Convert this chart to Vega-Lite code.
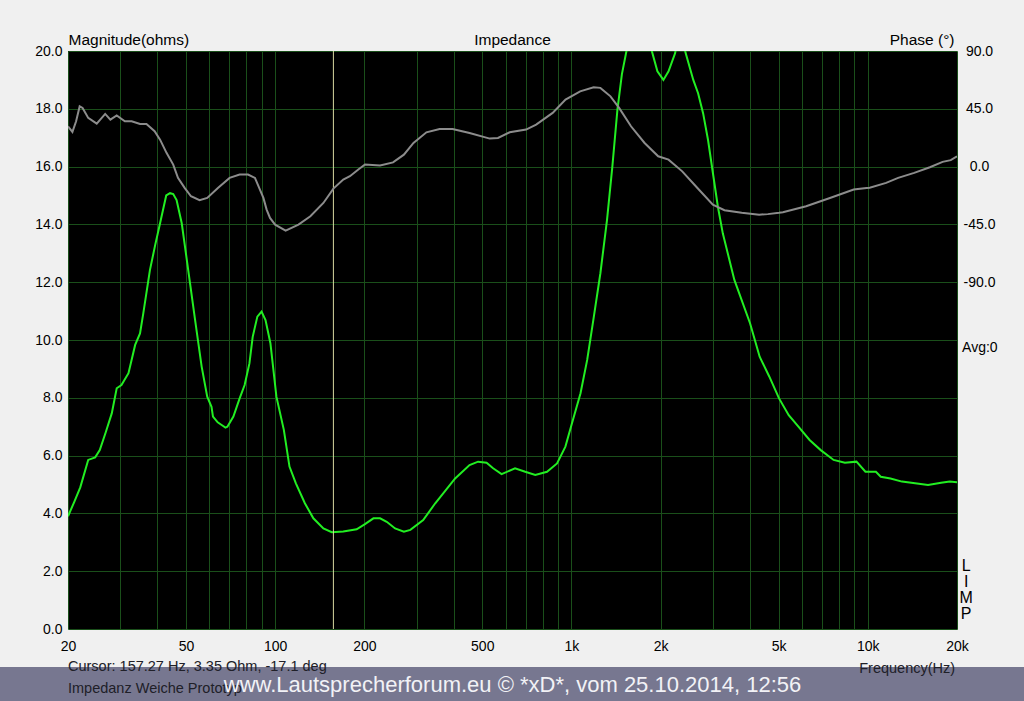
{
  "$schema": "https://vega.github.io/schema/vega-lite/v6.json",
  "width": 889,
  "height": 578,
  "autosize": {"type": "none"},
  "padding": {"left": 68, "top": 51, "right": 67, "bottom": 72},
  "background": "#f0f0f0",
  "config": {
    "view": {"fill": "#000000", "stroke": null},
    "font": "Liberation Sans",
    "axis": {
      "labelFont": "Liberation Sans",
      "titleFont": "Liberation Sans",
      "labelFontSize": 14,
      "titleFontSize": 15.5,
      "titleFontWeight": "normal",
      "labelColor": "#000000",
      "titleColor": "#000000",
      "ticks": false,
      "tickSize": 0,
      "domain": false,
      "gridColor": "#1a4f1a",
      "gridOpacity": 1,
      "gridWidth": 1
    }
  },
  "datasets": {
    "one": [{}],
    "mag": [
      {"f": 20, "ohm": 3.9}, {"f": 21, "ohm": 4.4}, {"f": 22, "ohm": 4.9}, {"f": 23.4, "ohm": 5.85},
      {"f": 24.7, "ohm": 5.94}, {"f": 25.6, "ohm": 6.19}, {"f": 26.8, "ohm": 6.8}, {"f": 28.1, "ohm": 7.46},
      {"f": 29.2, "ohm": 8.33}, {"f": 30.3, "ohm": 8.44}, {"f": 32.0, "ohm": 8.85}, {"f": 33.7, "ohm": 9.83},
      {"f": 35.0, "ohm": 10.23}, {"f": 35.9, "ohm": 10.92}, {"f": 37.8, "ohm": 12.42}, {"f": 39.4, "ohm": 13.3},
      {"f": 40.9, "ohm": 14.04}, {"f": 42.9, "ohm": 15.0}, {"f": 44.2, "ohm": 15.08}, {"f": 45.3, "ohm": 15.05},
      {"f": 46.5, "ohm": 14.84}, {"f": 48.4, "ohm": 14.04}, {"f": 50.9, "ohm": 12.42}, {"f": 53.7, "ohm": 10.69},
      {"f": 56.5, "ohm": 9.08}, {"f": 59.0, "ohm": 8.04}, {"f": 61.0, "ohm": 7.69}, {"f": 61.7, "ohm": 7.35},
      {"f": 64.0, "ohm": 7.15}, {"f": 66.0, "ohm": 7.06}, {"f": 68.0, "ohm": 6.97}, {"f": 69.0, "ohm": 7.0},
      {"f": 72.3, "ohm": 7.35}, {"f": 75.9, "ohm": 7.98}, {"f": 78.9, "ohm": 8.44}, {"f": 81.9, "ohm": 9.19},
      {"f": 84.0, "ohm": 10.11}, {"f": 87.1, "ohm": 10.81}, {"f": 90.0, "ohm": 10.98}, {"f": 92.8, "ohm": 10.69},
      {"f": 96.4, "ohm": 9.89}, {"f": 101, "ohm": 8.04}, {"f": 107, "ohm": 6.89}, {"f": 111.8, "ohm": 5.62},
      {"f": 117.5, "ohm": 5.04}, {"f": 126, "ohm": 4.35}, {"f": 134.6, "ohm": 3.83}, {"f": 145.5, "ohm": 3.48},
      {"f": 155.3, "ohm": 3.35}, {"f": 169.8, "ohm": 3.37}, {"f": 188.4, "ohm": 3.45}, {"f": 201, "ohm": 3.63},
      {"f": 214.6, "ohm": 3.83}, {"f": 226, "ohm": 3.83}, {"f": 238, "ohm": 3.71}, {"f": 254, "ohm": 3.48},
      {"f": 272, "ohm": 3.37}, {"f": 286, "ohm": 3.43}, {"f": 316, "ohm": 3.77}, {"f": 347, "ohm": 4.35},
      {"f": 405, "ohm": 5.21}, {"f": 453, "ohm": 5.67}, {"f": 484, "ohm": 5.79}, {"f": 517, "ohm": 5.75},
      {"f": 544, "ohm": 5.56}, {"f": 581, "ohm": 5.36}, {"f": 645, "ohm": 5.56}, {"f": 698, "ohm": 5.44},
      {"f": 755, "ohm": 5.33}, {"f": 827, "ohm": 5.44}, {"f": 894, "ohm": 5.73}, {"f": 954, "ohm": 6.31},
      {"f": 1004, "ohm": 7.12}, {"f": 1073, "ohm": 8.16}, {"f": 1130, "ohm": 9.31}, {"f": 1190, "ohm": 10.81},
      {"f": 1252, "ohm": 12.31}, {"f": 1318, "ohm": 14.15}, {"f": 1374, "ohm": 16.0}, {"f": 1429, "ohm": 17.96},
      {"f": 1480, "ohm": 19.2}, {"f": 1540, "ohm": 20.1}, {"f": 1600, "ohm": 21.0}, {"f": 1700, "ohm": 21.3},
      {"f": 1800, "ohm": 20.8}, {"f": 1867, "ohm": 20.0}, {"f": 1950, "ohm": 19.3}, {"f": 2043, "ohm": 19.0},
      {"f": 2126, "ohm": 19.3}, {"f": 2237, "ohm": 19.92}, {"f": 2300, "ohm": 20.6}, {"f": 2360, "ohm": 20.5},
      {"f": 2418, "ohm": 20.0}, {"f": 2577, "ohm": 19.0}, {"f": 2675, "ohm": 18.54}, {"f": 2782, "ohm": 17.84},
      {"f": 2890, "ohm": 16.92}, {"f": 3002, "ohm": 15.77}, {"f": 3120, "ohm": 14.61}, {"f": 3241, "ohm": 13.69},
      {"f": 3546, "ohm": 12.08}, {"f": 4005, "ohm": 10.58}, {"f": 4316, "ohm": 9.42}, {"f": 4654, "ohm": 8.73},
      {"f": 5018, "ohm": 7.98}, {"f": 5410, "ohm": 7.4}, {"f": 5833, "ohm": 7.0}, {"f": 6362, "ohm": 6.54},
      {"f": 6937, "ohm": 6.19}, {"f": 7668, "ohm": 5.85}, {"f": 8370, "ohm": 5.75}, {"f": 9157, "ohm": 5.79},
      {"f": 9818, "ohm": 5.44}, {"f": 10650, "ohm": 5.44}, {"f": 11060, "ohm": 5.27}, {"f": 11930, "ohm": 5.21},
      {"f": 13040, "ohm": 5.1}, {"f": 14440, "ohm": 5.04}, {"f": 15970, "ohm": 4.98}, {"f": 17680, "ohm": 5.06},
      {"f": 18900, "ohm": 5.1}, {"f": 20000, "ohm": 5.08}
    ],
    "phase": [
      {"f": 20, "deg": 31.4}, {"f": 20.7, "deg": 27.0}, {"f": 21.3, "deg": 35.3}, {"f": 21.9, "deg": 46.9},
      {"f": 22.4, "deg": 45.7}, {"f": 23.4, "deg": 37.9}, {"f": 25.0, "deg": 33.5}, {"f": 26.7, "deg": 41.0},
      {"f": 27.8, "deg": 36.6}, {"f": 29.2, "deg": 39.9}, {"f": 31.1, "deg": 35.3}, {"f": 32.8, "deg": 35.3},
      {"f": 35.0, "deg": 33.2}, {"f": 36.8, "deg": 33.2}, {"f": 39.2, "deg": 27.5}, {"f": 40.9, "deg": 21.0},
      {"f": 43.0, "deg": 10.7}, {"f": 45.3, "deg": 1.6}, {"f": 47.0, "deg": -8.8}, {"f": 49.5, "deg": -16.6},
      {"f": 52.0, "deg": -23.1}, {"f": 55.6, "deg": -26.2}, {"f": 59.0, "deg": -24.4}, {"f": 64.1, "deg": -16.6},
      {"f": 70.2, "deg": -8.8}, {"f": 75.9, "deg": -6.2}, {"f": 81, "deg": -6.2}, {"f": 85.5, "deg": -8.8},
      {"f": 91.3, "deg": -24.4}, {"f": 93.6, "deg": -33.5}, {"f": 96.1, "deg": -40.0}, {"f": 100, "deg": -45.2},
      {"f": 108.5, "deg": -49.8}, {"f": 119.9, "deg": -45.2}, {"f": 131.5, "deg": -38.7}, {"f": 145.5, "deg": -28.3},
      {"f": 157.3, "deg": -17.1}, {"f": 169.8, "deg": -10.1}, {"f": 178.8, "deg": -7.5}, {"f": 190.9, "deg": -2.3},
      {"f": 201, "deg": 1.6}, {"f": 226, "deg": 0.8}, {"f": 250, "deg": 3.3}, {"f": 272, "deg": 9.3},
      {"f": 293, "deg": 18.4}, {"f": 324, "deg": 26.7}, {"f": 359, "deg": 29.3}, {"f": 397, "deg": 29.3},
      {"f": 453, "deg": 26.2}, {"f": 530, "deg": 21.8}, {"f": 565, "deg": 22.3}, {"f": 619, "deg": 26.7},
      {"f": 703, "deg": 28.8}, {"f": 760, "deg": 32.7}, {"f": 864, "deg": 41.8}, {"f": 955, "deg": 52.2},
      {"f": 1070, "deg": 58.6}, {"f": 1188, "deg": 61.7}, {"f": 1252, "deg": 61.3}, {"f": 1354, "deg": 54.7},
      {"f": 1448, "deg": 45.7}, {"f": 1588, "deg": 31.4}, {"f": 1765, "deg": 18.4}, {"f": 1962, "deg": 8.0},
      {"f": 2126, "deg": 5.4}, {"f": 2365, "deg": -3.7}, {"f": 2628, "deg": -15.3}, {"f": 3000, "deg": -29.6},
      {"f": 3283, "deg": -34.0}, {"f": 3754, "deg": -36.0}, {"f": 4300, "deg": -37.4}, {"f": 4600, "deg": -37.0},
      {"f": 5018, "deg": -36.0}, {"f": 5170, "deg": -35.5}, {"f": 6193, "deg": -30.9}, {"f": 7452, "deg": -24.4},
      {"f": 8961, "deg": -17.9}, {"f": 9900, "deg": -16.6}, {"f": 10150, "deg": -16.4}, {"f": 11530, "deg": -12.7},
      {"f": 12660, "deg": -8.8}, {"f": 14340, "deg": -4.9}, {"f": 16200, "deg": -0.5}, {"f": 17880, "deg": 3.7},
      {"f": 19050, "deg": 5.0}, {"f": 20000, "deg": 8.0}
    ]
  },
  "layer": [
    {
      "layer": [
        {
          "data": {"name": "mag"},
          "mark": {"type": "line", "color": "#22ee22", "strokeWidth": 2, "clip": true},
          "encoding": {
            "x": {
              "field": "f", "type": "quantitative",
              "scale": {"type": "log", "domain": [20, 20000], "nice": false},
              "axis": {
                "values": [20, 30, 40, 50, 60, 70, 80, 90, 100, 200, 300, 400, 500, 600, 700, 800, 900, 1000, 2000, 3000, 4000, 5000, 6000, 7000, 8000, 9000, 10000, 20000],
                "grid": true,
                "labelExpr": "indexof([20,50,100,200,500,1000,2000,5000,10000,20000], datum.value) >= 0 ? (datum.value >= 1000 ? (datum.value/1000) + 'k' : datum.value + '') : ''",
                "labelOverlap": false,
                "labelFlush": false,
                "labelPadding": 10,
                "title": null
              }
            },
            "y": {
              "field": "ohm", "type": "quantitative",
              "scale": {"domain": [0, 20], "nice": false, "zero": false},
              "axis": {
                "values": [0, 2, 4, 6, 8, 10, 12, 14, 16, 18, 20],
                "format": ".1f",
                "grid": true,
                "labelPadding": 6,
                "title": "Magnitude(ohms)",
                "titleAngle": 0,
                "titleAlign": "left",
                "titleBaseline": "middle",
                "titleX": 0,
                "titleY": -12
              }
            }
          }
        },
        {
          "data": {"name": "one"},
          "mark": {"type": "rule", "color": "#d8d8a0", "strokeWidth": 1},
          "encoding": {
            "x": {"datum": 157.27, "type": "quantitative", "scale": {"type": "log", "domain": [20, 20000], "nice": false}, "title": null}
          }
        },
        {
          "data": {"name": "one"},
          "mark": {"type": "rect", "color": "#777790", "opacity": 1},
          "encoding": {
            "x": {"datum": 10, "type": "quantitative", "scale": {"type": "log", "domain": [20, 20000], "nice": false}, "title": null},
            "x2": {"datum": 40000},
            "y": {"datum": -1.315, "type": "quantitative", "scale": {"domain": [0, 20], "nice": false, "zero": false}, "title": null},
            "y2": {"datum": -3}
          }
        },
        {
          "data": {"name": "one"},
          "mark": {"type": "text", "text": "Impedance", "fontSize": 15.5, "align": "center", "baseline": "middle", "color": "#000000"},
          "encoding": {
            "x": {"datum": 632.5, "type": "quantitative", "scale": {"type": "log", "domain": [20, 20000], "nice": false}, "title": null},
            "y": {"datum": 20.38, "type": "quantitative", "scale": {"domain": [0, 20], "nice": false, "zero": false}, "title": null}
          }
        },
        {
          "data": {"name": "one"},
          "mark": {"type": "text", "text": "Cursor: 157.27 Hz, 3.35 Ohm, -17.1 deg", "fontSize": 14.5, "align": "left", "baseline": "middle", "color": "#202028"},
          "encoding": {
            "x": {"datum": 20, "type": "quantitative", "scale": {"type": "log", "domain": [20, 20000], "nice": false}, "title": null},
            "y": {"datum": -1.315, "type": "quantitative", "scale": {"domain": [0, 20], "nice": false, "zero": false}, "title": null}
          }
        },
        {
          "data": {"name": "one"},
          "mark": {"type": "text", "text": "Impedanz Weiche Prototyp", "fontSize": 14.5, "align": "left", "baseline": "middle", "color": "#202028"},
          "encoding": {
            "x": {"datum": 20, "type": "quantitative", "scale": {"type": "log", "domain": [20, 20000], "nice": false}, "title": null},
            "y": {"datum": -2.076, "type": "quantitative", "scale": {"domain": [0, 20], "nice": false, "zero": false}, "title": null}
          }
        },
        {
          "data": {"name": "one"},
          "mark": {"type": "text", "text": "Frequency(Hz)", "fontSize": 14.5, "align": "right", "baseline": "middle", "color": "#202028"},
          "encoding": {
            "x": {"datum": 19707, "type": "quantitative", "scale": {"type": "log", "domain": [20, 20000], "nice": false}, "title": null},
            "y": {"datum": -1.38, "type": "quantitative", "scale": {"domain": [0, 20], "nice": false, "zero": false}, "title": null}
          }
        },
        {
          "data": {"name": "one"},
          "mark": {"type": "text", "text": "www.Lautsprecherforum.eu © *xD*, vom 25.10.2014, 12:56", "fontSize": 22, "align": "center", "baseline": "middle", "color": "#f2f2f6"},
          "encoding": {
            "x": {"datum": 632.5, "type": "quantitative", "scale": {"type": "log", "domain": [20, 20000], "nice": false}, "title": null},
            "y": {"datum": -1.94, "type": "quantitative", "scale": {"domain": [0, 20], "nice": false, "zero": false}, "title": null}
          }
        },
        {
          "data": {"name": "one"},
          "mark": {"type": "text", "text": "Avg:0", "fontSize": 14, "align": "left", "baseline": "middle", "color": "#000000"},
          "encoding": {
            "x": {"datum": 20810, "type": "quantitative", "scale": {"type": "log", "domain": [20, 20000], "nice": false}, "title": null},
            "y": {"datum": 9.72, "type": "quantitative", "scale": {"domain": [0, 20], "nice": false, "zero": false}, "title": null}
          }
        },
        {
          "data": {"name": "one"},
          "mark": {"type": "text", "text": "L\nI\nM\nP", "lineBreak": "\n", "lineHeight": 16, "fontSize": 16, "align": "center", "baseline": "top", "color": "#000000"},
          "encoding": {
            "x": {"datum": 21470, "type": "quantitative", "scale": {"type": "log", "domain": [20, 20000], "nice": false}, "title": null},
            "y": {"datum": 2.46, "type": "quantitative", "scale": {"domain": [0, 20], "nice": false, "zero": false}, "title": null}
          }
        }
      ]
    },
    {
      "data": {"name": "phase"},
      "mark": {"type": "line", "color": "#8c8c8c", "strokeWidth": 2, "clip": true},
      "encoding": {
        "x": {"field": "f", "type": "quantitative", "scale": {"type": "log", "domain": [20, 20000], "nice": false}, "title": null},
        "y": {
          "field": "deg", "type": "quantitative",
          "scale": {"domain": [-360, 90], "nice": false, "zero": false},
          "axis": {
            "orient": "right",
            "values": [-90, -45, 0, 45, 90],
            "labelExpr": "replace(format(datum.value, '.1f'), '\u2212', '-')",
            "grid": false,
            "labelAlign": "center",
            "labelPadding": 22,
            "title": "Phase (°)",
            "titleAngle": 0,
            "titleAlign": "right",
            "titleBaseline": "middle",
            "titleX": -3,
            "titleY": -12
          }
        }
      }
    }
  ],
  "resolve": {"scale": {"y": "independent"}}
}
